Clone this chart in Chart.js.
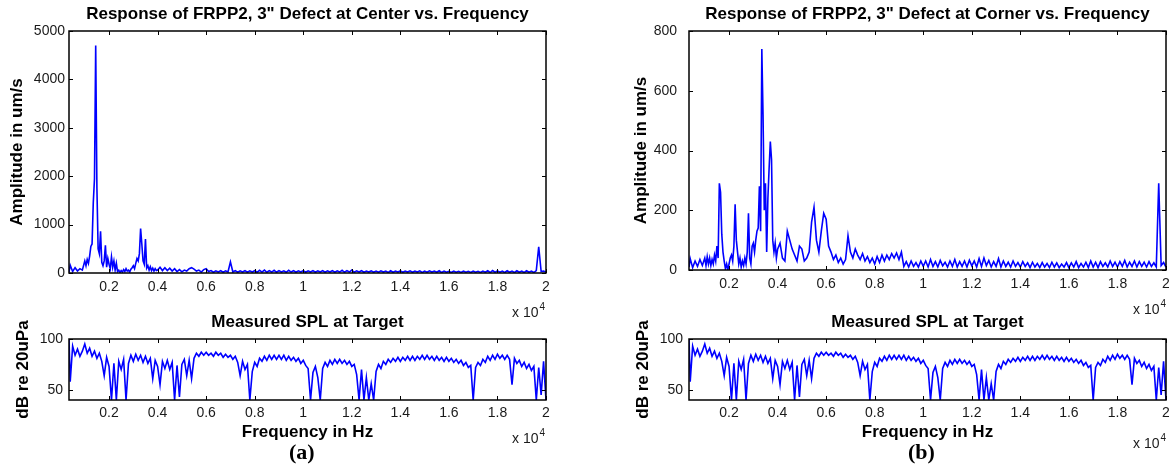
<!DOCTYPE html>
<html>
<head>
<meta charset="utf-8">
<script src="https://cdn.jsdelivr.net/npm/chart.js@4.4.1/dist/chart.umd.min.js"></script>
<style>
  body { margin: 0; width: 1169px; height: 464px; overflow: hidden; background: #fff; position: relative; font-family: "Liberation Sans", Arial, sans-serif; }
  canvas { position: absolute; }
  .exp { position: absolute; font-size: 14px; line-height: 16px; color: #1a1a1a; white-space: nowrap; }
  .exp sup { font-size: 10px; vertical-align: baseline; position: relative; top: -7px; margin-left: 1px; }
  .tag { position: absolute; font: bold 22px "Liberation Serif", "Times New Roman", serif; line-height: 24px; color: #000; }
</style>
</head>
<body>
<canvas id="centerChart" width="560" height="300" style="left:0;top:0"></canvas>
<canvas id="cornerChart" width="560" height="300" style="left:620px;top:0"></canvas>
<canvas id="splChartA" width="560" height="145" style="left:0;top:300px"></canvas>
<canvas id="splChartB" width="560" height="145" style="left:620px;top:300px"></canvas>
<span class="exp" style="left:512px;top:304px">x 10<sup>4</sup></span>
<span class="exp" style="left:512px;top:430px">x 10<sup>4</sup></span>
<span class="exp" style="left:1133px;top:301px">x 10<sup>4</sup></span>
<span class="exp" style="left:1133px;top:435px">x 10<sup>4</sup></span>
<span class="tag" style="left:289px;top:440px">(a)</span>
<span class="tag" style="left:908px;top:440px">(b)</span>
<script>
// frequency axis ticks (Hz) and their labels (x 10^4)
const xTicks = [2000, 4000, 6000, 8000, 10000, 12000, 14000, 16000, 18000, 20000];
const xTickLabels = ['0.2', '0.4', '0.6', '0.8', '1', '1.2', '1.4', '1.6', '1.8', '2'];
const centerTicks = [0, 1000, 2000, 3000, 4000, 5000];
const cornerTicks = [0, 200, 400, 600, 800];
const splTicks = [50, 100];

// frequency bins for the two velocity spectra (Hz)
const ampHz = [
  350, 400, 500, 600, 700, 800, 900,
  1000, 1050, 1100, 1150, 1200, 1250, 1300, 1350, 1400, 1450, 1500, 1550, 1600, 1650, 1700, 1750, 1800, 1850, 1900, 1950,
  2000, 2050, 2100, 2150, 2200, 2250, 2300, 2350, 2400, 2450, 2500, 2550, 2600, 2650, 2700, 2750, 2800, 2850, 2900, 2950,
  3000, 3050, 3100, 3150, 3200, 3250, 3300, 3350, 3400, 3450, 3500, 3550, 3600, 3650, 3700, 3750, 3800, 3850, 3900, 3950,
  4000, 4100, 4200, 4300, 4400, 4500, 4600, 4700, 4800, 4900,
  5000, 5100, 5200, 5300, 5400, 5500, 5600, 5700, 5800, 5900,
  6000, 6100, 6200, 6300, 6400, 6500, 6600, 6700, 6800, 6900,
  7000, 7100, 7200, 7300, 7400, 7500, 7600, 7700, 7800, 7900,
  8000, 8100, 8200, 8300, 8400, 8500, 8600, 8700, 8800, 8900,
  9000, 9100, 9200, 9300, 9400, 9500, 9600, 9700, 9800, 9900,
  10000, 10100, 10200, 10300, 10400, 10500, 10600, 10700, 10800, 10900,
  11000, 11100, 11200, 11300, 11400, 11500, 11600, 11700, 11800, 11900,
  12000, 12100, 12200, 12300, 12400, 12500, 12600, 12700, 12800, 12900,
  13000, 13100, 13200, 13300, 13400, 13500, 13600, 13700, 13800, 13900,
  14000, 14100, 14200, 14300, 14400, 14500, 14600, 14700, 14800, 14900,
  15000, 15100, 15200, 15300, 15400, 15500, 15600, 15700, 15800, 15900,
  16000, 16100, 16200, 16300, 16400, 16500, 16600, 16700, 16800, 16900,
  17000, 17100, 17200, 17300, 17400, 17500, 17600, 17700, 17800, 17900,
  18000, 18100, 18200, 18300, 18400, 18500, 18600, 18700, 18800, 18900,
  19000, 19100, 19200, 19300, 19400, 19500, 19600, 19700, 19800, 19900,
  20000
];

// (a) defect at center, um/s
const centerAmp = [
  20, 160, 30, 110, 40, 90, 60,
  250, 150, 280, 200, 350, 550, 600, 1450, 1950, 4700, 1750, 500, 400, 860, 220, 150, 250, 570, 120, 300,
  180, 90, 330, 120, 250, 60, 200, 30, 60, 10, 50, 20, 70, 30, 90, 40, 60, 20, 80, 110,
  150, 90, 200, 300, 250, 400, 920, 600, 250, 180, 700, 100, 150, 60, 130, 50, 100, 40, 90, 50,
  60, 120, 50, 110, 50, 100, 40, 90, 30, 70,
  25, 60, 40, 90, 110, 80, 40, 60, 20, 70,
  90, 30, 50, 15, 45, 20, 50, 15, 45, 20,
  230, 20, 50, 15, 45, 20, 50, 15, 45, 20,
  50, 15, 55, 20, 60, 15, 50, 20, 55, 15,
  50, 20, 45, 15, 55, 20, 50, 15, 45, 20,
  50, 15, 45, 20, 50, 15, 45, 20, 50, 15,
  45, 20, 50, 15, 45, 20, 55, 15, 50, 20,
  60, 15, 45, 20, 50, 15, 40, 20, 45, 15,
  40, 15, 45, 20, 40, 10, 45, 15, 40, 20,
  45, 15, 40, 20, 45, 15, 40, 20, 45, 10,
  40, 15, 45, 20, 40, 15, 45, 10, 40, 15,
  35, 10, 40, 15, 35, 10, 40, 15, 35, 10,
  40, 15, 35, 10, 40, 15, 45, 10, 50, 15,
  45, 15, 40, 10, 45, 15, 40, 10, 45, 15,
  40, 10, 45, 15, 40, 10, 50, 540, 30, 40,
  20
];

// (b) defect at corner, um/s
const cornerAmp = [
  10, 38, 8, 30, 12, 35, 15,
  40, 15, 45, 20, 40, 15, 35, 20, 50, 30, 80, 40, 290, 260, 120, 60, 30, 5, 20, 0,
  20, 40, 50, 30, 80, 220, 100, 60, 20, 40, 10, 30, 15, 40, 20, 60, 190, 40, 20, 80,
  90, 60, 100, 130, 140, 280, 130, 740, 520, 200, 290, 60, 240, 340, 430, 370, 100, 60, 90, 40,
  70, 90, 40, 30, 130, 100, 70, 50, 30, 80,
  70, 30, 40, 60, 160, 210, 100, 60, 130, 190,
  170, 80, 60, 35, 50, 25, 40, 20, 35, 115,
  60, 40, 70, 50, 35, 55, 30, 45, 25, 40,
  20, 45, 25, 50, 30, 50, 35, 55, 40, 57,
  35, 60, 12, 28, 10, 30, 12, 25, 10, 30,
  12, 30, 10, 35, 12, 28, 10, 32, 14, 26,
  10, 30, 12, 35, 10, 28, 12, 30, 10, 33,
  14, 30, 10, 38, 12, 40, 15, 32, 10, 28,
  12, 38, 10, 30, 12, 26, 10, 30, 12, 25,
  10, 28, 12, 24, 8, 26, 10, 22, 8, 25,
  10, 22, 8, 26, 10, 24, 8, 20, 10, 25,
  8, 24, 10, 28, 8, 22, 10, 26, 8, 30,
  10, 26, 8, 28, 12, 24, 10, 30, 12, 26,
  10, 28, 12, 32, 10, 26, 12, 30, 10, 28,
  12, 26, 10, 28, 12, 24, 10, 290, 15, 25,
  10
];

// measured SPL at target (same measurement under both panels)
const splHz = [
  350, 400, 500, 600, 700, 800, 900,
  1000, 1100, 1200, 1300, 1400, 1500, 1600, 1700, 1800, 1900,
  2000, 2100, 2200, 2300, 2400, 2500, 2600, 2700, 2800, 2900,
  3000, 3100, 3200, 3300, 3400, 3500, 3600, 3700, 3800, 3900,
  4000, 4100, 4200, 4300, 4400, 4500, 4600, 4700, 4800, 4900,
  5000, 5100, 5200, 5300, 5400, 5500, 5600, 5700, 5800, 5900,
  6000, 6100, 6200, 6300, 6400, 6500, 6600, 6700, 6800, 6900,
  7000, 7100, 7200, 7300, 7400, 7500, 7600, 7700, 7800, 7900,
  8000, 8100, 8200, 8300, 8400, 8500, 8600, 8700, 8800, 8900,
  9000, 9100, 9200, 9300, 9400, 9500, 9600, 9700, 9800, 9900,
  10000, 10100, 10200, 10300, 10400, 10500, 10600, 10700, 10800, 10900,
  11000, 11100, 11200, 11300, 11400, 11500, 11600, 11700, 11800, 11900,
  12000, 12100, 12200, 12300, 12400, 12500, 12600, 12700, 12800, 12900,
  13000, 13100, 13200, 13300, 13400, 13500, 13600, 13700, 13800, 13900,
  14000, 14100, 14200, 14300, 14400, 14500, 14600, 14700, 14800, 14900,
  15000, 15100, 15200, 15300, 15400, 15500, 15600, 15700, 15800, 15900,
  16000, 16100, 16200, 16300, 16400, 16500, 16600, 16700, 16800, 16900,
  17000, 17100, 17200, 17300, 17400, 17500, 17600, 17700, 17800, 17900,
  18000, 18100, 18200, 18300, 18400, 18500, 18600, 18700, 18800, 18900,
  19000, 19100, 19200, 19300, 19400, 19500, 19600, 19700, 19800, 19900,
  20000
];
const splDb = [
  100, 58, 93, 84, 90, 83, 88,
  95, 86, 91, 83, 88, 81, 86, 78, 64, 82,
  73, 40, 76, 40, 78, 70, 80, 40, 76, 84,
  78, 85, 79, 84, 77, 83, 76, 81, 61, 79,
  73, 55, 78, 71, 79, 70, 77, 40, 74, 43,
  75, 80, 64, 79, 61, 81, 86, 83, 87, 84,
  87, 84, 86, 83, 87, 84, 86, 82, 85, 82,
  84, 80, 83, 77, 64, 78, 70, 75, 40, 68,
  77, 73, 81, 78, 83, 79, 84, 80, 84, 80,
  84, 80, 84, 79, 83, 79, 82, 78, 81, 76,
  79, 74, 71, 40, 67, 73, 62, 40, 71, 77,
  73, 79, 75, 80, 76, 80, 76, 79, 75, 78,
  73, 75, 65, 40, 70, 40, 62, 40, 56, 40,
  68, 75, 71, 78, 75, 80, 77, 81, 78, 82,
  78, 82, 79, 83, 79, 83, 79, 83, 80, 84,
  80, 84, 80, 83, 79, 83, 79, 82, 78, 82,
  78, 81, 77, 80, 76, 79, 74, 77, 72, 74,
  40, 72, 77, 74, 80, 77, 83, 79, 84, 80,
  85, 81, 84, 80, 84, 80, 55, 81, 76, 79,
  73, 77, 71, 75, 69, 73, 40, 72, 45, 78,
  40
];

const FONT = '"Liberation Sans", Arial, sans-serif';

// MATLAB-style box with inward tick marks on all four sides
const matlabBox = {
  id: 'matlabBox',
  afterDraw(chart) {
    const { ctx, chartArea: a, scales: { x, y } } = chart;
    ctx.save();
    ctx.strokeStyle = '#000';
    ctx.lineWidth = 1.5;
    ctx.strokeRect(a.left, a.top, a.right - a.left, a.bottom - a.top);
    ctx.lineWidth = 1;
    ctx.beginPath();
    x.ticks.forEach(t => {
      const px = Math.round(x.getPixelForValue(t.value)) + 0.5;
      ctx.moveTo(px, a.bottom); ctx.lineTo(px, a.bottom - 4);
      ctx.moveTo(px, a.top); ctx.lineTo(px, a.top + 4);
    });
    y.ticks.forEach(t => {
      const py = Math.round(y.getPixelForValue(t.value)) + 0.5;
      ctx.moveTo(a.left, py); ctx.lineTo(a.left + 4, py);
      ctx.moveTo(a.right, py); ctx.lineTo(a.right - 4, py);
    });
    ctx.stroke();
    ctx.restore();
  }
};

function makeChart(id, hz, vals, o) {
  return new Chart(document.getElementById(id), {
    type: 'line',
    data: {
      datasets: [{
        data: hz.map((f, i) => ({ x: f, y: vals[i] })),
        borderColor: '#0000ff',
        borderWidth: 1.6,
        pointRadius: 0,
        tension: 0
      }]
    },
    options: {
      responsive: false,
      animation: false,
      events: [],
      layout: { padding: { right: 14 } },
      plugins: {
        legend: { display: false },
        tooltip: { enabled: false },
        title: {
          display: true,
          text: o.title,
          fullSize: false,
          color: '#000',
          font: { family: FONT, size: 17, weight: 'bold' },
          padding: { top: o.titleTop, bottom: o.titleBottom }
        }
      },
      scales: {
        x: {
          type: 'linear',
          min: 350,
          max: 20000,
          afterBuildTicks: s => { s.ticks = xTicks.map(v => ({ value: v })); },
          afterFit: s => { s.height = o.xHeight; },
          grid: { display: false, drawTicks: false },
          border: { display: false },
          ticks: {
            padding: o.xPad,
            color: '#1a1a1a',
            font: { family: FONT, size: 14 },
            maxRotation: 0,
            callback: (v, i) => xTickLabels[i]
          },
          title: {
            display: !!o.xTitle,
            text: o.xTitle || '',
            color: '#000',
            font: { family: FONT, size: 17, weight: 'bold' },
            padding: { top: 0, bottom: 2 }
          }
        },
        y: {
          min: o.yMin,
          max: o.yMax,
          afterBuildTicks: s => { s.ticks = o.yTicks.map(v => ({ value: v })); },
          afterFit: s => { s.width = 69; },
          grid: { display: false, drawTicks: false },
          border: { display: false },
          ticks: {
            padding: o.yPad,
            color: '#1a1a1a',
            font: { family: FONT, size: 14 },
            callback: v => String(v)
          },
          title: {
            display: true,
            text: o.yTitle,
            color: '#000',
            font: { family: FONT, size: 17, weight: 'bold' },
            padding: { top: o.yTitlePad, bottom: 0 }
          }
        }
      }
    },
    plugins: [matlabBox]
  });
}

makeChart('centerChart', ampHz, centerAmp, {
  title: 'Response of FRPP2, 3" Defect at Center vs. Frequency',
  titleTop: 4, titleBottom: 6.6,
  yTitle: 'Amplitude in um/s', yTitlePad: 7,
  yMin: 0, yMax: 5000, yTicks: centerTicks, yPad: 4,
  xHeight: 27, xPad: 6
});

makeChart('cornerChart', ampHz, cornerAmp, {
  title: 'Response of FRPP2, 3" Defect at Corner vs. Frequency',
  titleTop: 4, titleBottom: 6.6,
  yTitle: 'Amplitude in um/s', yTitlePad: 11,
  yMin: 0, yMax: 800, yTicks: cornerTicks, yPad: 12,
  xHeight: 30, xPad: 6
});

makeChart('splChartA', splHz, splDb, {
  title: 'Measured SPL at Target',
  titleTop: 12, titleBottom: 6.6,
  yTitle: 'dB re 20uPa', yTitlePad: 13,
  yMin: 40, yMax: 100, yTicks: splTicks, yPad: 6,
  xHeight: 45, xPad: 5, xTitle: 'Frequency in Hz'
});

makeChart('splChartB', splHz, splDb, {
  title: 'Measured SPL at Target',
  titleTop: 12, titleBottom: 6.6,
  yTitle: 'dB re 20uPa', yTitlePad: 13,
  yMin: 40, yMax: 100, yTicks: splTicks, yPad: 6,
  xHeight: 45, xPad: 5, xTitle: 'Frequency in Hz'
});
</script>
</body>
</html>
